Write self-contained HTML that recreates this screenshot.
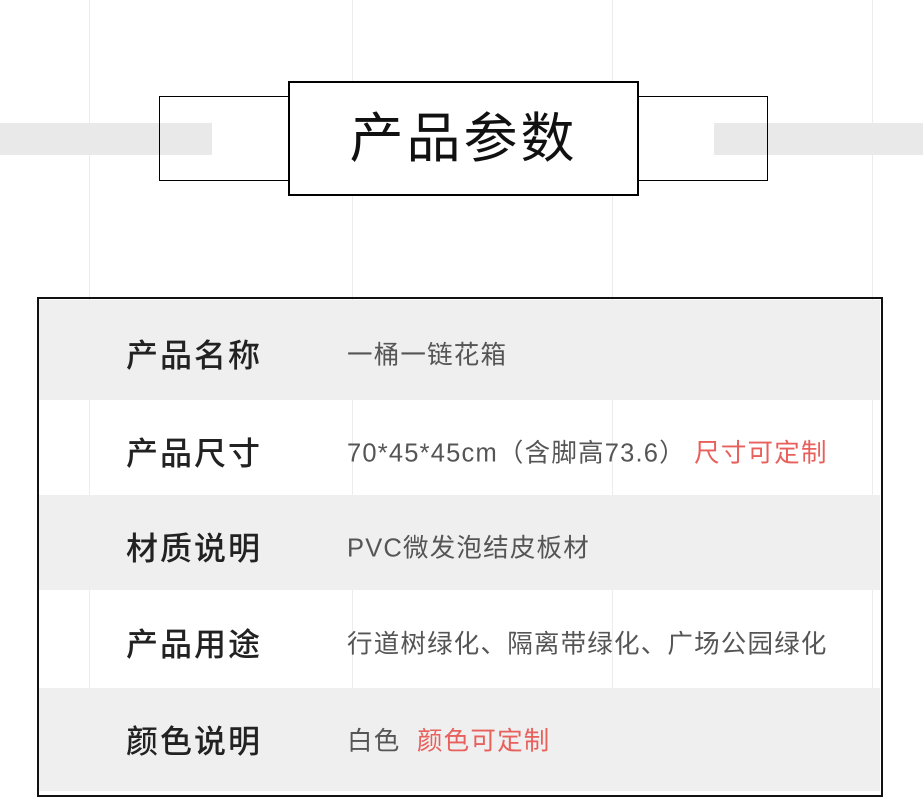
<!DOCTYPE html>
<html><head><meta charset="utf-8"><style>
*{margin:0;padding:0;box-sizing:border-box}
body{width:923px;height:791px;background:#fff;position:relative;overflow:hidden;font-family:"Liberation Sans","Noto Sans CJK SC",sans-serif}
.a{position:absolute}
.vl{position:absolute;top:0;width:1px;height:791px;background:#ececec}
.row{position:absolute;left:39px;width:841px;height:96px}
.k{position:absolute;left:87px;font-size:32px;color:#222;top:50%;transform:translateY(-42%);letter-spacing:2px;font-weight:500}
.v{position:absolute;left:308px;font-size:25.5px;color:#555;top:50%;transform:translateY(-42%);letter-spacing:1.2px}
.r{color:#e8605c}
</style></head><body>
<div class="vl" style="left:89px"></div>
<div class="vl" style="left:352px"></div>
<div class="vl" style="left:612px"></div>
<div class="vl" style="left:872px"></div>
<div class="a" style="left:0;top:123px;width:212px;height:32px;background:#e9e9e9"></div>
<div class="a" style="left:714px;top:123px;width:209px;height:32px;background:#e9e9e9"></div>
<div class="a" style="left:159px;top:96px;width:131px;height:85px;border:1px solid #000;border-right:none"></div>
<div class="a" style="left:637px;top:96px;width:131px;height:85px;border:1px solid #000;border-left:none"></div>
<div class="a" style="left:288px;top:81px;width:351px;height:115px;border:2px solid #000;background:#fff;text-align:center;line-height:113px;font-size:54px;color:#111;letter-spacing:3px">产品参数</div>
<div class="a" style="left:37px;top:297px;width:846px;height:500px;border:2px solid #111"></div>
<div class="row" style="top:300px;height:100px;background:#efefef"><div class="k">产品名称</div><div class="v">一桶一链花箱</div></div>
<div class="row" style="top:400px;height:95px"><div class="k">产品尺寸</div><div class="v">70*45*45cm（含脚高73.6） <span class="r">尺寸可定制</span></div></div>
<div class="row" style="top:495px;height:95px;background:#efefef"><div class="k">材质说明</div><div class="v">PVC微发泡结皮板材</div></div>
<div class="row" style="top:590px;height:98px"><div class="k">产品用途</div><div class="v">行道树绿化、隔离带绿化、广场公园绿化</div></div>
<div class="row" style="top:688px;height:103px;background:#efefef"><div class="k" style="top:48px">颜色说明</div><div class="v" style="top:48px">白色 &nbsp;<span class="r">颜色可定制</span></div></div>
</body></html>
